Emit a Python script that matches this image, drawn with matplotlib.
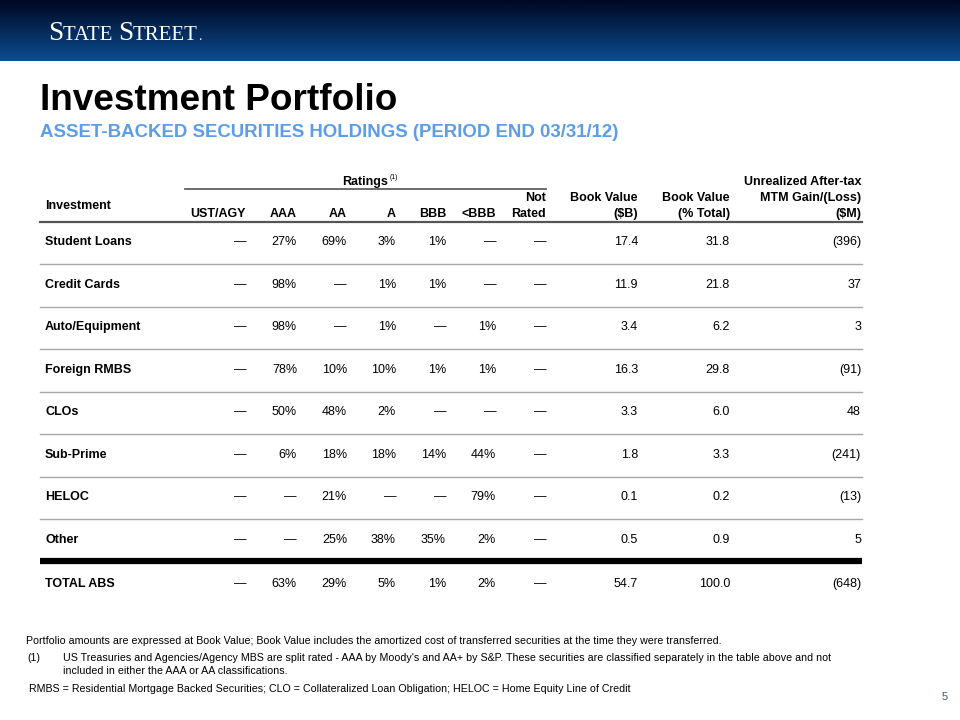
import numpy as np
import matplotlib
matplotlib.use("Agg")
import matplotlib.pyplot as plt

plt.rcParams['font.family'] = ['Liberation Sans', 'DejaVu Sans']

# ---- data ----
investments = ["Student Loans", "Credit Cards", "Auto/Equipment", "Foreign RMBS",
               "CLOs", "Sub-Prime", "HELOC", "Other"]
ust_agy = ["—", "—", "—", "—", "—", "—", "—", "—"]
aaa = ["27%", "98%", "98%", "78%", "50%", "6%", "—", "—"]
aa = ["69%", "—", "—", "10%", "48%", "18%", "21%", "25%"]
a = ["3%", "1%", "1%", "10%", "2%", "18%", "—", "38%"]
bbb = ["1%", "1%", "—", "1%", "—", "14%", "—", "35%"]
below_bbb = ["—", "—", "1%", "1%", "—", "44%", "79%", "2%"]
not_rated = ["—", "—", "—", "—", "—", "—", "—", "—"]
book_value_b = ["17.4", "11.9", "3.4", "16.3", "3.3", "1.8", "0.1", "0.5"]
book_value_pct = ["31.8", "21.8", "6.2", "29.8", "6.0", "3.3", "0.2", "0.9"]
mtm_gain = ["(396)", "37", "3", "(91)", "48", "(241)", "(13)", "5"]

total_row = ["TOTAL ABS", "—", "63%", "29%", "5%", "1%", "2%", "—", "54.7", "100.0", "(648)"]

col_heads = ["UST/AGY", "AAA", "AA", "A", "BBB", "<BBB", "Not\nRated",
             "Book Value\n($B)", "Book Value\n(% Total)", "Unrealized After-tax\nMTM Gain/(Loss)\n($M)"]

columns = [ust_agy, aaa, aa, a, bbb, below_bbb, not_rated,
           book_value_b, book_value_pct, mtm_gain]

# ---- layout (pixel coordinates) ----
col_right = [246, 297, 347, 396, 446, 496, 546, 638, 730, 861]
row_y = [242, 285, 327, 370, 412, 455, 497, 540]
total_y = 584

fig = plt.figure(figsize=(9.6, 7.2), dpi=100)
ax = fig.add_axes([0, 0, 1, 1])
ax.set_xlim(0, 960)
ax.set_ylim(720, 0)
ax.axis('off')

# header band gradient
top = np.array([0x00, 0x08, 0x22]) / 255
bot = np.array([0x0b, 0x4c, 0x90]) / 255
t = np.linspace(0, 1, 60)[:, None]
grad = (top[None, :] * (1 - t) + bot[None, :] * t)[:, None, :]
ax.imshow(grad, extent=(0, 960, 61, 0), aspect='auto', zorder=0)
ax.set_xlim(0, 960)
ax.set_ylim(720, 0)

# logo in small caps
fig.canvas.draw()
renderer = fig.canvas.get_renderer()
x = 48
for txt, fs in [("S", 19.5), ("TATE ", 15), ("S", 19.5), ("TREET", 15), (".", 10)]:
    tt = ax.text(x, 40, txt, color='white', fontsize=fs, family='Liberation Serif',
                 va='baseline', ha='left')
    bb = tt.get_window_extent(renderer)
    x += bb.width

# titles
ax.text(40, 110, "Investment Portfolio", fontsize=26.6, fontweight='bold',
        color='black', va='baseline')
ax.text(40, 137, "ASSET-BACKED SECURITIES HOLDINGS (PERIOD END 03/31/12)",
        fontsize=13.4, fontweight='bold', color='#5b9de8', va='baseline')

fs = 9
# column headings
ax.text(365, 185, "Ratings", fontsize=fs, fontweight='bold', ha='center', va='baseline')
ax.text(390, 179, "(1)", fontsize=5, ha='left', va='baseline')
ax.plot([185, 546], [189, 189], color='#606060', lw=1.3)
ax.text(45, 209, "Investment", fontsize=fs, fontweight='bold', va='baseline')
for head, xr in zip(col_heads, col_right):
    lines = head.split("\n")
    for k, ln in enumerate(reversed(lines)):
        ax.text(xr, 217 - 16 * k, ln, fontsize=fs, fontweight='bold',
                ha='right', va='baseline')
ax.plot([40, 862], [222, 222], color='#555555', lw=1.6)

# body rows
for i, name in enumerate(investments):
    y = row_y[i]
    ax.text(45, y, name, fontsize=fs, fontweight='bold', va='center')
    for col, xr in zip(columns, col_right):
        ax.text(xr, y, col[i], fontsize=fs, ha='right', va='center')
    if i < len(investments) - 1:
        ax.plot([40, 862], [y + 22, y + 22], color='#a8a8a8', lw=1.0)

ax.plot([40, 862], [561, 561], color='black', lw=4.5, solid_capstyle='butt')

ax.text(45, total_y, total_row[0], fontsize=fs, fontweight='bold', va='center')
for val, xr in zip(total_row[1:], col_right):
    ax.text(xr, total_y, val, fontsize=fs, ha='right', va='center')

# footnotes
nfs = 7.7
ax.text(26, 641, "Portfolio amounts are expressed at Book Value; Book Value includes the amortized cost "
        "of transferred securities at the time they were transferred.", fontsize=nfs, va='center')
ax.text(27, 658, "(1)", fontsize=nfs, va='center')
ax.text(63, 658, "US Treasuries and Agencies/Agency MBS are split rated - AAA by Moody's and AA+ by S&P. "
        "These securities are classified separately in the table above and not", fontsize=nfs, va='center')
ax.text(63, 671, "included in either the AAA or AA classifications.", fontsize=nfs, va='center')
ax.text(29, 689, "RMBS = Residential Mortgage Backed Securities; CLO = Collateralized Loan Obligation; "
        "HELOC = Home Equity Line of Credit", fontsize=nfs, va='center')
ax.text(945, 697, "5", fontsize=8, color='#3a5a8c', ha='center', va='center')

fig.savefig("out.png", dpi=100)
